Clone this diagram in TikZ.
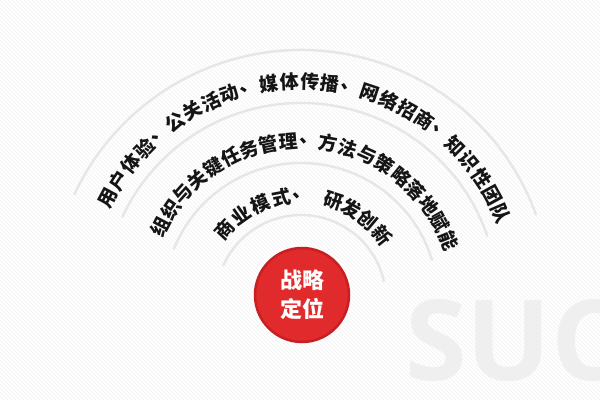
\documentclass[tikz,border=0pt]{standalone}
\usepackage{fontspec}
\newfontfamily\cjk{Noto Sans CJK SC}
\newfontfamily\wmfont{Open Sans}
\definecolor{arcgray}{HTML}{E6E6E6}
\definecolor{txt}{HTML}{151515}
\definecolor{redfill}{HTML}{E12A2C}
\definecolor{redrim}{HTML}{C71F22}
\definecolor{stripe}{HTML}{F5F5F5}
\definecolor{wmgray}{HTML}{EFEFEF}
\tikzset{
  ring/.style={draw=arcgray, line width=2.4pt, line cap=round},
  archar/.style={font=\cjk\bfseries\fontsize{19}{19}\selectfont, text=txt, inner sep=0pt},
  core/.style={circle, minimum size=94pt, fill=redfill, draw=redrim, line width=2.5pt, text=white,
    font=\cjk\bfseries\fontsize{22}{29}\selectfont, align=center},
}
\begin{document}
\begin{tikzpicture}[x=1pt,y=1pt]
\useasboundingbox (0,0) rectangle (600,400);
\fill[white] (0,0) rectangle (600,400);
\begin{scope}
  \clip (0,0) rectangle (600,400);
  \foreach \k in {-100,...,250} {
    \draw[stripe, line width=0.8pt] (\k*4,400) -- ++(400,-400);
  }
  \node[font=\wmfont\bfseries\fontsize{112}{112}\selectfont, text=wmgray, anchor=base west, inner sep=0pt] (wm) at (405,20) {SUC};
\end{scope}
\coordinate (ctr) at (301,100);
\draw[ring] (ctr) ++(20:250) arc[start angle=20, end angle=155, radius=250];
\draw[ring] (ctr) ++(19:197) arc[start angle=19, end angle=155, radius=197];
\draw[ring] (ctr) ++(17:137) arc[start angle=17, end angle=158, radius=137];
\draw[ring] (ctr) ++(13:85) arc[start angle=13, end angle=156, radius=85];
\begin{scope}[shift={(301,100)}]
  \foreach \c [count=\i] in {用,户,体,验,、,公,关,活,动,、,媒,体,传,播,、,网,络,招,商,、,知,识,性,团,队} {
    \pgfmathsetmacro\a{152-(\i-1)*5.36}
    \node[archar, rotate=\a-90] (o\i) at (\a:218) {\c};
  }
  \foreach \c [count=\i] in {组,织,与,关,键,任,务,管,理,、,方,法,与,策,略,落,地,赋,能} {
    \pgfmathsetmacro\a{152.4-(\i-1)*7.24}
    \node[archar, rotate=\a-90] (m\i) at (\a:159) {\c};
  }
  \foreach \c/\a [count=\i] in {商/137.4,业/125.2,模/113,式/100.8,、/89.5,研/72,发/61,创/50,新/38.7} {
    \node[archar, rotate=\a-90] (n\i) at (\a:104) {\c};
  }
\end{scope}
\node[core] (core) at (302,105) {战略\\定位};
\end{tikzpicture}
\end{document}
